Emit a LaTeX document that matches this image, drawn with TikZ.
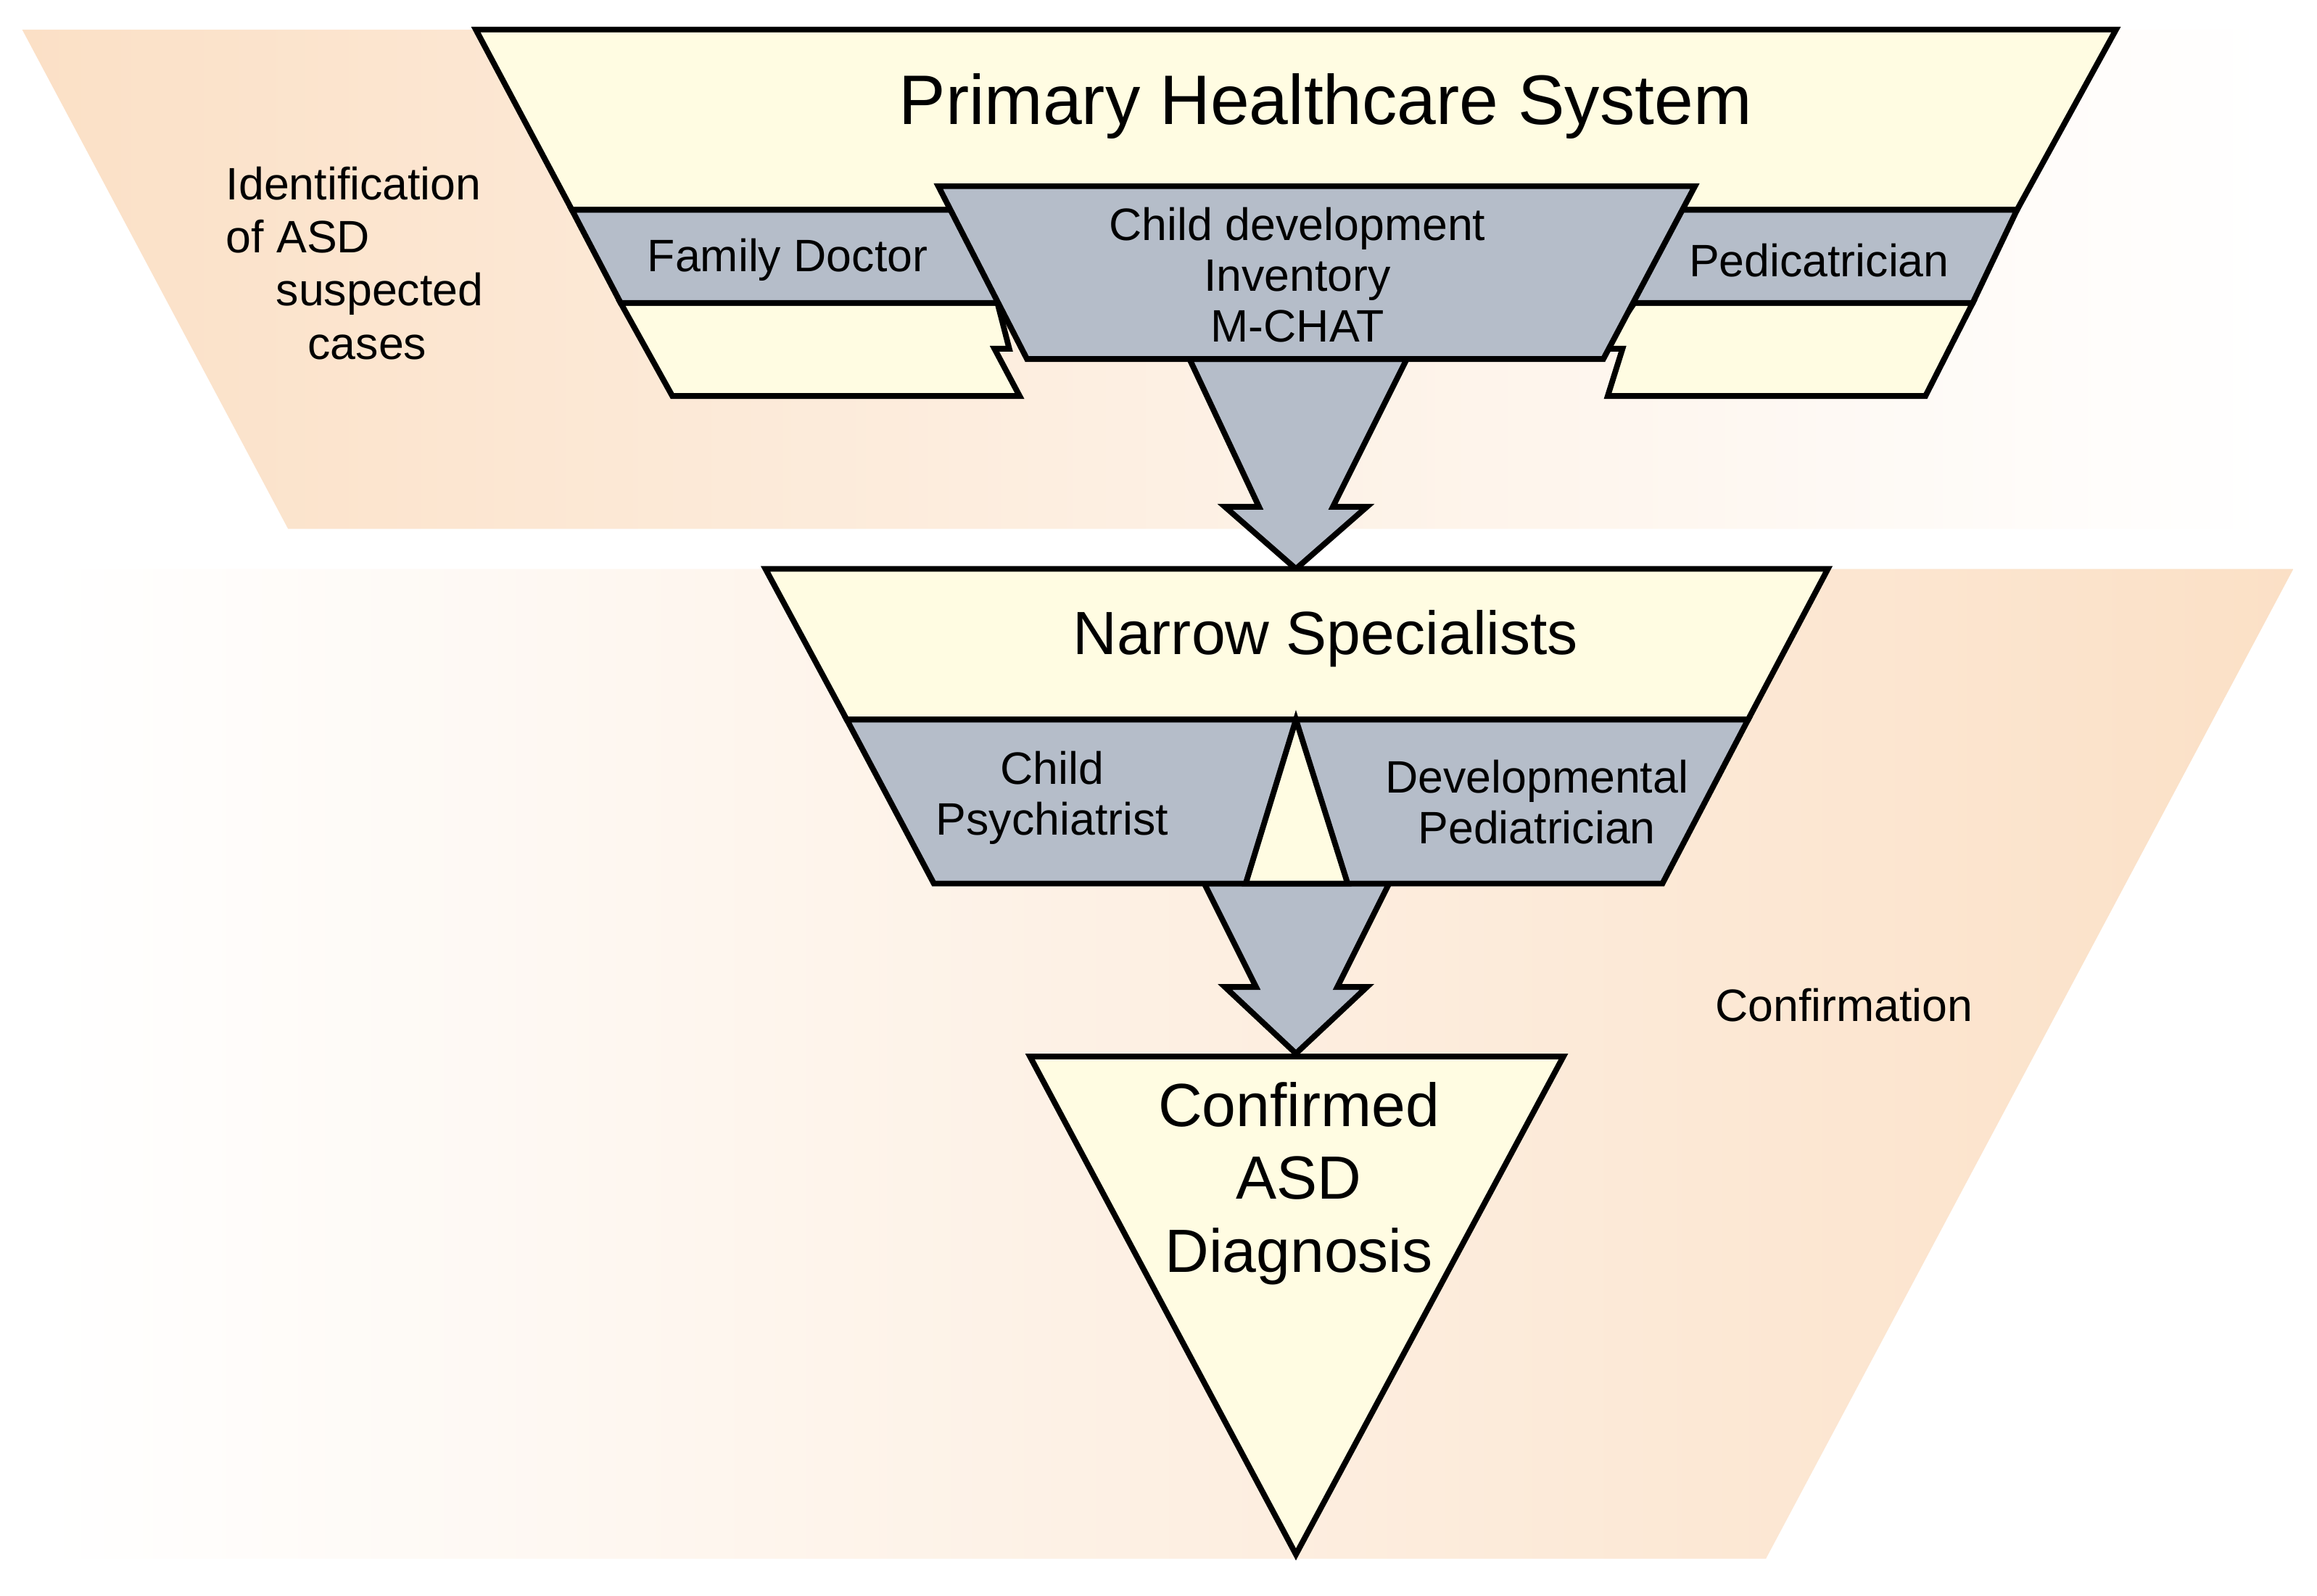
\documentclass[tikz,border=0pt]{standalone}
\usepackage{fontspec}
\setmainfont{Liberation Sans}
\begin{document}
\begin{tikzpicture}[x=0.02cm,y=-0.02cm,
  yel/.style={fill=yfill,draw=black,line width=2.2pt,line join=miter},
  gry/.style={fill=gfill,draw=black,line width=2.2pt,line join=miter},
  big/.style={font=\fontsize{27}{31}\selectfont},
  mid/.style={font=\fontsize{23.5}{27}\selectfont,align=center},
  sm/.style={font=\fontsize{17.5}{20.5}\selectfont,align=center}]
\definecolor{yfill}{HTML}{FFFCE2}
\definecolor{gfill}{HTML}{B5BDC9}
\definecolor{peach}{HTML}{FBE0C6}
\useasboundingbox (0,0) rectangle (1568,1080);
\fill[white] (0,0) rectangle (1568,1080);
% background bands
\shade[left color=peach,right color=white] (15,20) -- (1535,20) -- (1535,358) -- (195,358) -- cycle;
\shade[left color=white,right color=peach] (30,385) -- (1552,385) -- (1195,1055) -- (30,1055) -- cycle;
% primary healthcare
\draw[yel] (322,20) -- (1432,20) -- (1365,142) -- (387,142) -- cycle;
\draw[yel] (420,205) -- (675,205) -- (683,236) -- (673,236) -- (690,268) -- (455,268) -- cycle;
\draw[yel] (1106,205) -- (1335,205) -- (1303,268) -- (1088,268) -- (1098,236) -- (1085,236) -- cycle;
\draw[gry] (387,142) -- (645,142) -- (678,205) -- (420,205) -- cycle;
\draw[gry] (1120,142) -- (1365,142) -- (1335,205) -- (1104,205) -- cycle;
\draw[gry] (805,243) -- (852,343) -- (829,343) -- (877,385) -- (925,343) -- (902,343) -- (952,243) -- cycle;
\draw[gry] (635,126) -- (1147,126) -- (1085,243) -- (695,243) -- cycle;
\node[big] (phs) at (897,72) {Primary Healthcare System};
\node[sm] (fd) at (533,176) {Family Doctor};
\node[sm] (pd) at (1231,176) {Pedicatrician};
\node[sm] (cd) at (878,186) {Child development\\[-1pt]Inventory\\[-1pt]M-CHAT};
% narrow specialists
\draw[gry] (815,598) -- (850,668) -- (829,668) -- (877,713) -- (925,668) -- (905,668) -- (940,598) -- cycle;
\draw[yel] (518,385) -- (1237,385) -- (1183,487) -- (573,487) -- cycle;
\draw[gry] (573,487) -- (1183,487) -- (1125,598) -- (632,598) -- cycle;
\draw[yel] (877,487) -- (912,598) -- (843,598) -- cycle;
\node[mid] (ns) at (897,432) {Narrow Specialists};
\node[sm] (cp) at (712,540) {Child\\[-1pt]Psychiatrist};
\node[sm] (dp) at (1040,543) {Developmental\\[-1pt]Pediatrician};
% confirmed
\draw[yel] (697,715) -- (1058,715) -- (877,1052) -- cycle;
\node[mid] (cf) at (879,801) {Confirmed\\[1pt]ASD\\[1pt]Diagnosis};
% side labels
\node[sm,align=left] (id) at (240,178) {Identification\\of ASD\\\hspace*{1.1em}suspected\\\hspace*{1.8em}cases};
\node[sm] (cn) at (1248,680) {Confirmation};
\end{tikzpicture}
\end{document}
